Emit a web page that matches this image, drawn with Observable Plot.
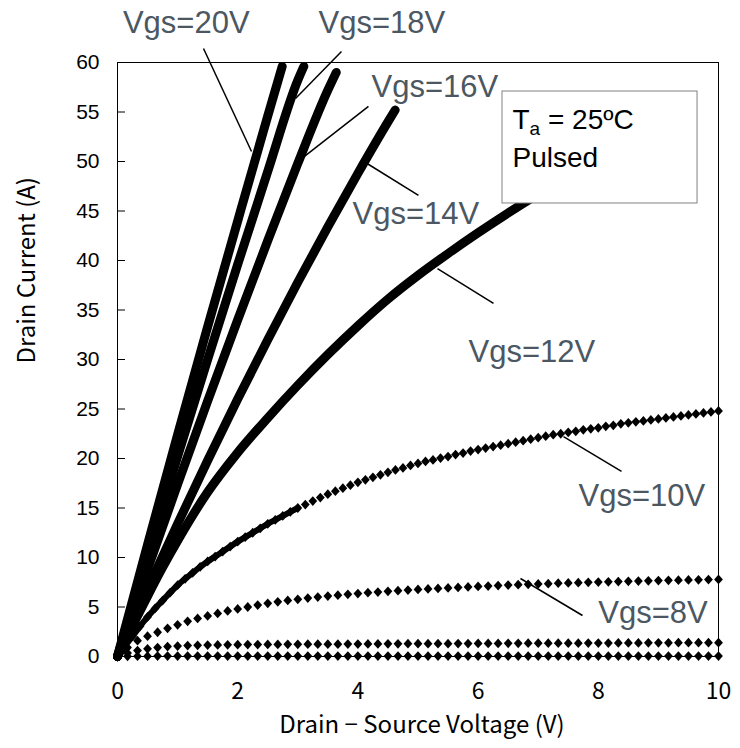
<!DOCTYPE html>
<html>
<head>
<meta charset="utf-8">
<script src="https://cdn.jsdelivr.net/npm/d3@7"></script>
<script src="https://cdn.jsdelivr.net/npm/@observablehq/plot@0.6"></script>
<style>
  html, body { margin: 0; padding: 0; background: #fff; }
  #chart svg { display: block; }
</style>
</head>
<body>
<div id="chart"></div>
<script>
// ---------- axis ticks ----------
const xTicks = [0, 2, 4, 6, 8, 10];
const yTicks = [0, 5, 10, 15, 20, 25, 30, 35, 40, 45, 50, 55, 60];

// ---------- steep curves (dense marker chains -> thick lines) ----------
const curve20 = [[0,0],[0.5,11.3],[1,22.4],[1.5,33.3],[2,44],[2.5,54.6],[2.74,59.6]];
const curve18 = [[0,0],[0.5,10.2],[1,20.2],[1.5,30],[2,39.6],[2.5,49],[3,58.2],[3.1,59.6]];
const curve16 = [[0,0],[0.5,8.8],[1,17.4],[1.5,25.8],[2,34],[2.5,42],[3,49.8],[3.5,57.2],[3.64,59]];
const curve14 = [[0,0],[0.5,6.8],[1,13.4],[1.5,19.8],[2,26],[2.5,32],[3,37.8],[3.5,43.4],[4,48.8],[4.5,54],[4.62,55.2]];
const curve12 = [[0,0],[0.25,3.1],[0.5,6.1],[0.75,9],[1,11.7],[1.5,16.6],[2,20.6],[2.5,24.1],[3,27.4],[3.5,30.5],[4,33.4],[4.5,36.1],[5,38.5],[5.5,40.7],[6,42.8],[6.5,44.8],[7,46.7],[7.5,48.5]];

// ---------- Vgs = 10 V (markers every 0.125 V) ----------
const vds10 = [0,0.125,0.25,0.375,0.5,0.625,0.75,0.875,1,1.125,1.25,1.375,1.5,1.625,1.75,1.875,2,2.125,2.25,2.375,2.5,2.625,2.75,2.875,3,3.125,3.25,3.375,3.5,3.625,3.75,3.875,4,4.125,4.25,4.375,4.5,4.625,4.75,4.875,5,5.125,5.25,5.375,5.5,5.625,5.75,5.875,6,6.125,6.25,6.375,6.5,6.625,6.75,6.875,7,7.125,7.25,7.375,7.5,7.625,7.75,7.875,8,8.125,8.25,8.375,8.5,8.625,8.75,8.875,9,9.125,9.25,9.375,9.5,9.625,9.75,9.875,10];
const id10 = [0,1.05,2.05,3.05,4,4.85,5.65,6.45,7.2,7.85,8.45,9.05,9.6,10.1,10.6,11.1,11.6,12.05,12.5,12.95,13.4,13.8,14.2,14.6,15,15.35,15.7,16.05,16.4,16.7,17,17.3,17.6,17.85,18.1,18.35,18.6,18.85,19.05,19.3,19.5,19.7,19.85,20.05,20.2,20.4,20.55,20.75,20.9,21.05,21.2,21.35,21.5,21.65,21.8,21.95,22.1,22.25,22.4,22.5,22.65,22.75,22.9,23,23.1,23.25,23.35,23.5,23.6,23.7,23.8,23.9,24,24.1,24.2,24.3,24.4,24.5,24.6,24.7,24.8];

// ---------- Vgs = 8 V, 6 V, 4 V (markers every 1/6 V) ----------
const vdsLow = [0,0.167,0.333,0.5,0.667,0.833,1,1.167,1.333,1.5,1.667,1.833,2,2.167,2.333,2.5,2.667,2.833,3,3.167,3.333,3.5,3.667,3.833,4,4.167,4.333,4.5,4.667,4.833,5,5.167,5.333,5.5,5.667,5.833,6,6.167,6.333,6.5,6.667,6.833,7,7.167,7.333,7.5,7.667,7.833,8,8.167,8.333,8.5,8.667,8.833,9,9.167,9.333,9.5,9.667,9.833,10];
const id8 = [0,0.9,1.6,2.05,2.45,2.85,3.2,3.55,3.85,4.1,4.35,4.6,4.8,5,5.2,5.37,5.52,5.66,5.78,5.9,6,6.1,6.19,6.28,6.36,6.44,6.51,6.58,6.65,6.71,6.77,6.83,6.88,6.93,6.98,7.03,7.08,7.12,7.17,7.21,7.25,7.29,7.33,7.36,7.4,7.43,7.46,7.49,7.52,7.55,7.57,7.6,7.62,7.65,7.67,7.69,7.71,7.73,7.75,7.77,7.79];
const id6 = [0,0.35,0.6,0.78,0.9,1,1.06,1.1,1.13,1.15,1.17,1.18,1.19,1.2,1.21,1.22,1.22,1.23,1.23,1.24,1.24,1.25,1.25,1.26,1.26,1.27,1.27,1.28,1.28,1.29,1.29,1.3,1.3,1.3,1.31,1.31,1.32,1.32,1.32,1.33,1.33,1.34,1.34,1.34,1.35,1.35,1.35,1.36,1.36,1.36,1.37,1.37,1.37,1.38,1.38,1.38,1.39,1.39,1.39,1.4,1.4];
const id4 = [0,0.02,0.03,0.03,0.04,0.04,0.04,0.04,0.05,0.05,0.05,0.05,0.05,0.05,0.05,0.05,0.05,0.05,0.05,0.05,0.05,0.05,0.05,0.05,0.05,0.05,0.05,0.05,0.05,0.05,0.05,0.05,0.05,0.05,0.05,0.05,0.05,0.05,0.05,0.05,0.05,0.05,0.05,0.05,0.05,0.05,0.05,0.05,0.05,0.05,0.05,0.05,0.05,0.05,0.05,0.05,0.05,0.05,0.05,0.05,0.05];

// ---------- annotations ----------
const labelText = ["Vgs=20V","Vgs=18V","Vgs=16V","Vgs=14V","Vgs=12V","Vgs=10V","Vgs=8V"];
const labelX    = [0.09, 3.344, 4.226, 3.91, 5.84, 7.67, 8.0];
const labelY    = [62.93, 62.93, 56.5, 43.7, 29.7, 15.25, 3.43];
const leaderX1  = [1.431, 3.727, 4.176, 4.126, 5.324, 7.421, 6.705];
const leaderY1  = [61.41, 61.11, 55.56, 49.9, 39.19, 22.22, 7.88];
const leaderX2  = [2.230, 2.962, 3.111, 5.008, 6.256, 8.386, 7.737];
const leaderY2  = [51.01, 56.36, 50.51, 46.57, 35.66, 18.69, 4.14];
const legendBox = {x1: 6.406, x2: 9.651, y1: 45.76, y2: 57.07};
const legendLines = ["Ta = 25ºC", "Pulsed"];
const legendX = [6.572, 6.572];
const legendY = [53.33, 49.49];

// ---------- build tables ----------
const steep = [["20",curve20],["18",curve18],["16",curve16],["14",curve14],["12",curve12]]
  .flatMap(([g, pts]) => pts.map(([v, i]) => ({vgs: g, vds: v, id: i})));
const line10 = vds10.map((v, k) => ({vgs: "10", vds: v, id: id10[k]})).filter(d => d.vds <= 3);
const dots = [
  ...vds10.map((v, k) => ({vgs: "10", vds: v, id: id10[k]})),
  ...vdsLow.map((v, k) => ({vgs: "8", vds: v, id: id8[k]})),
  ...vdsLow.map((v, k) => ({vgs: "6", vds: v, id: id6[k]})),
  ...vdsLow.map((v, k) => ({vgs: "4", vds: v, id: id4[k]}))
];
const labels = labelText.map((t, k) => ({t, x: labelX[k], y: labelY[k]}));
const leaders = leaderX1.map((x1, k) => ({x1, y1: leaderY1[k], x2: leaderX2[k], y2: leaderY2[k]}));
const legend = legendLines.map((t, k) => ({t, x: legendX[k], y: legendY[k]}));

const diamond = {
  draw(ctx, size) {
    const r = Math.sqrt(size / Math.PI);
    const w = r * 1.1, h = r * 1.22;
    ctx.moveTo(0, -h); ctx.lineTo(w, 0); ctx.lineTo(0, h); ctx.lineTo(-w, 0); ctx.closePath();
  }
};

const jp = "'Noto Sans CJK JP', 'Noto Sans', sans-serif";
const arial = "'Liberation Sans', Arial, sans-serif";

const chart = Plot.plot({
  width: 740,
  height: 748,
  marginLeft: 117,
  marginRight: 22,
  marginTop: 62,
  marginBottom: 92,
  style: {fontFamily: arial, fontSize: "21px", background: "white", color: "black", overflow: "visible"},
  x: {domain: [0, 10]},
  y: {domain: [0, 60]},
  marks: [
    Plot.frame({stroke: "black", strokeWidth: 1}),
    Plot.axisY({ticks: yTicks, tickSize: -8, tickPadding: 26, fontSize: 21, fontFamily: arial, label: null, stroke: "black"}),
    Plot.axisX({ticks: xTicks, tickSize: 0, tickPadding: 26, fontSize: 23, fontFamily: jp, label: null}),
    Plot.line(steep, {x: "vds", y: "id", z: "vgs", stroke: "black", strokeWidth: 9, strokeLinecap: "round", strokeLinejoin: "round", curve: "monotone-x"}),
    Plot.line(line10, {x: "vds", y: "id", stroke: "black", strokeWidth: 6, strokeLinecap: "round", curve: "monotone-x"}),
    Plot.dot(dots, {x: "vds", y: "id", symbol: diamond, r: 4, fill: "black", stroke: null}),
    Plot.link(leaders, {x1: "x1", y1: "y1", x2: "x2", y2: "y2", stroke: "black", strokeWidth: 1.5}),
    Plot.text(labels, {x: "x", y: "y", text: "t", textAnchor: "start", lineAnchor: "bottom", fill: "#4c5762", fontSize: 31, fontFamily: arial}),
    Plot.rect([legendBox], {x1: "x1", x2: "x2", y1: "y1", y2: "y2", fill: "white", stroke: "#808080", strokeWidth: 1}),
    Plot.text(legend, {x: "x", y: "y", text: "t", textAnchor: "start", lineAnchor: "bottom", fill: "black", fontSize: 28, fontFamily: arial}),
    Plot.text(["Drain − Source Voltage (V)"], {frameAnchor: "bottom", lineAnchor: "bottom", dy: 76, dx: 4, fontSize: 24, fontFamily: jp, fill: "black"}),
    Plot.text(["Drain Current (A)"], {frameAnchor: "left", lineAnchor: "bottom", rotate: -90, dx: -83, dy: 4, fontSize: 24, fontFamily: jp, fill: "black"})
  ]
});

// subscript "a" in Ta
d3.select(chart).selectAll("text").each(function() {
  if (this.textContent === "Ta = 25ºC") {
    const t = d3.select(this);
    t.text(null);
    t.append("tspan").text("T");
    t.append("tspan").attr("font-size", 19).attr("dy", 6).text("a");
    t.append("tspan").attr("dy", -6).text(" = 25ºC");
  }
});

document.getElementById("chart").appendChild(chart);
</script>
</body>
</html>
